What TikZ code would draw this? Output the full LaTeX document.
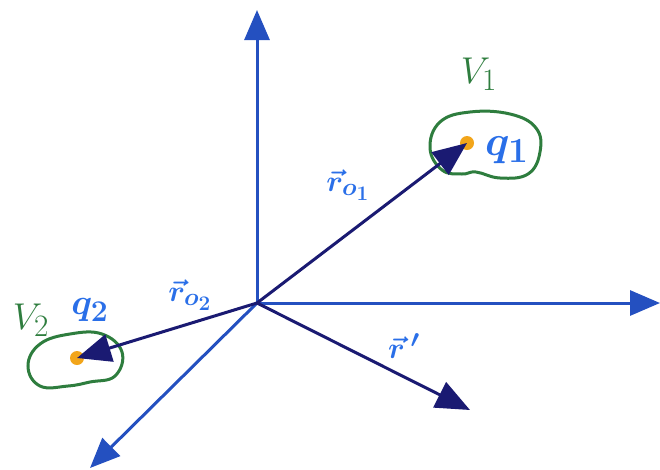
\documentclass[tikz,border=0pt]{standalone}
\usetikzlibrary{arrows.meta}
\definecolor{axisblue}{HTML}{2450C0}
\definecolor{vecnavy}{HTML}{1A1A72}
\definecolor{inkblue}{HTML}{2A6FE8}
\definecolor{inkgreen}{HTML}{2E7D3E}
\definecolor{dotorange}{HTML}{F2A51A}
\tikzset{
  axis/.style={draw=axisblue, line width=3pt, -{Triangle[length=30pt,width=25pt]}},
  vecarrow/.style={draw=vecnavy, line width=3pt, -{Triangle[length=34pt,width=28pt]}},
  blob/.style={draw=inkgreen, line width=3pt},
  lbl/.style={text=inkblue, font=\Huge\boldmath, inner sep=0pt, scale=1.7},
  mlbl/.style={text=inkblue, font=\Huge\boldmath, inner sep=0pt, scale=1.45},
  slbl/.style={text=inkblue, font=\Huge\boldmath, inner sep=0pt, scale=1.2},
  vlbl/.style={text=inkgreen, font=\Huge, inner sep=0pt, scale=1.5},
  charge/.style={circle, fill=dotorange, minimum size=14pt, inner sep=0pt}
}
\begin{document}
\begin{tikzpicture}[x=1pt,y=-1pt]
\useasboundingbox (0,0) rectangle (660,469);
\coordinate (O) at (257,303);
\coordinate (up) at (257,10);
\coordinate (right) at (660,303);
\coordinate (dl) at (90,468);
% blobs
\draw[blob] plot[smooth cycle, tension=0.7] coordinates {(430,148) (440,122) (470,112) (510,114) (536,128) (540,152) (528,174) (500,178) (476,172) (462,174) (442,170)};
\draw[blob] plot[smooth cycle, tension=0.7] coordinates {(28,366) (40,344) (70,334) (102,334) (122,352) (115,376) (90,382) (68,386) (40,386)};
% axes
\draw[axis] (O) -- (up);
\draw[axis] (O) -- (right);
\draw[axis] (O) -- (dl);
% charges
\node[charge] (q1dot) at (467,143) {};
\node[charge] (q2dot) at (77,358) {};
% vectors
\draw[vecarrow] (O) -- (q1dot.center);
\draw[vecarrow] (O) -- (q2dot.center);
\coordinate (rp) at (470,410);
\draw[vecarrow] (O) -- (rp);
% labels
\node[lbl] (q1) at (507,150) {$q_1$};
\node[mlbl] (q2) at (90,310) {$q_2$};
\node[vlbl] (V1) at (479,74) {$V_1$};
\node[vlbl] (V2) at (31,320) {$V_2$};
\node[slbl] (r01) at (348,185) {$\vec{r}_{o_1}$};
\node[slbl] (r02) at (190,295) {$\vec{r}_{o_2}$};
\node[slbl] (rprime) at (404,346) {$\vec{r}\,'$};
\end{tikzpicture}
\end{document}
